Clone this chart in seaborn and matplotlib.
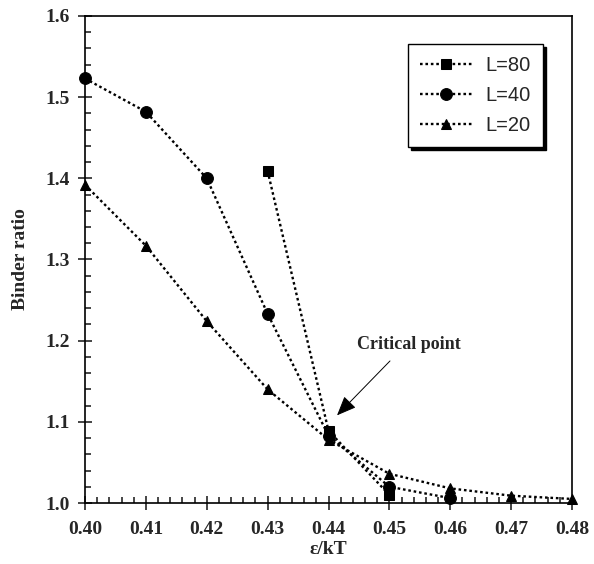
import numpy as np
import pandas as pd
import matplotlib
matplotlib.use("Agg")
import matplotlib.pyplot as plt
import seaborn as sns
from matplotlib.ticker import MultipleLocator

# Data
x80 = [0.43, 0.44, 0.45]
y80 = [1.409, 1.089, 1.010]
x40 = [0.40, 0.41, 0.42, 0.43, 0.44, 0.45, 0.46]
y40 = [1.523, 1.482, 1.400, 1.233, 1.083, 1.020, 1.006]
x20 = [0.40, 0.41, 0.42, 0.43, 0.44, 0.45, 0.46, 0.47, 0.48]
y20 = [1.392, 1.317, 1.224, 1.140, 1.078, 1.036, 1.018, 1.009, 1.005]
series_labels = ["L=80", "L=40", "L=20"]
xticks = [0.40, 0.41, 0.42, 0.43, 0.44, 0.45, 0.46, 0.47, 0.48]
yticks = [1.0, 1.1, 1.2, 1.3, 1.4, 1.5, 1.6]

df = pd.concat([
    pd.DataFrame({"x": x80, "y": y80, "L": series_labels[0]}),
    pd.DataFrame({"x": x40, "y": y40, "L": series_labels[1]}),
    pd.DataFrame({"x": x20, "y": y20, "L": series_labels[2]}),
], ignore_index=True)

sns.set_style("white")
serif = ["Liberation Serif", "DejaVu Serif"]
plt.rcParams["font.family"] = serif

fig = plt.figure(figsize=(5.94, 5.64), dpi=100)
ax = fig.add_axes([85/594, 1 - 503/564, (572-85)/594, (503-16)/564])

markers = {"L=80": "s", "L=40": "o", "L=20": "^"}
msizes = {"L=80": 7.5, "L=40": 8.5, "L=20": 7.5}
for lab in series_labels:
    sub = df[df["L"] == lab]
    sns.lineplot(data=sub, x="x", y="y", ax=ax, color="black", marker=markers[lab],
                 markersize=msizes[lab], markeredgecolor="black", markerfacecolor="black",
                 linewidth=1.7, linestyle=(0, (1.1, 1.2)), label=lab, clip_on=False, zorder=3)

ax.set_xlim(0.40, 0.48)
ax.set_ylim(1.0, 1.6)
ax.set_xticks(xticks)
ax.set_xticklabels([f"{v:.2f}" for v in xticks])
ax.set_yticks(yticks)
ax.set_yticklabels([f"{v:.1f}" for v in yticks])
ax.xaxis.set_minor_locator(MultipleLocator(0.002))
ax.yaxis.set_minor_locator(MultipleLocator(0.02))
ax.tick_params(axis="both", which="major", direction="inout", length=10, width=1.2,
               labelsize=14, bottom=True, left=True, top=False, right=False, pad=6)
ax.tick_params(axis="x", which="major", pad=8)
ax.tick_params(axis="both", which="minor", direction="in", length=4, width=1.2,
               bottom=True, left=True, top=False, right=False)
for lbl in ax.get_xticklabels() + ax.get_yticklabels():
    lbl.set_fontweight("bold")
for sp in ax.spines.values():
    sp.set_color("black")
    sp.set_linewidth(1.2)

ax.set_xlabel("ε/kT", fontsize=14, fontweight="bold", labelpad=2)
ax.set_ylabel("Binder ratio", fontsize=14, fontweight="bold", labelpad=12)

ax.text(0.4532, 1.1947, "Critical point", fontsize=13, fontweight="bold",
        ha="center", va="center")
ax.annotate("", xy=(0.4414, 1.108), xytext=(0.4501, 1.175),
            arrowprops=dict(arrowstyle="-|>,head_length=0.6,head_width=0.25",
                            color="black", lw=0.7, mutation_scale=20,
                            shrinkA=0, shrinkB=0))

leg = ax.legend(loc="upper right", frameon=True,
                fancybox=False, shadow={"color": "black", "alpha": 1},
                prop={"family": "Liberation Sans", "size": 14.5},
                handlelength=2.6, borderpad=0.6, labelspacing=0.55, handletextpad=0.65,
                borderaxespad=0)
leg.set_bbox_to_anchor((543/594, 1 - 44/564), transform=fig.transFigure)
leg.get_frame().set_edgecolor("black")
leg.get_frame().set_linewidth(1.0)

fig.savefig("out.png", dpi=100)
